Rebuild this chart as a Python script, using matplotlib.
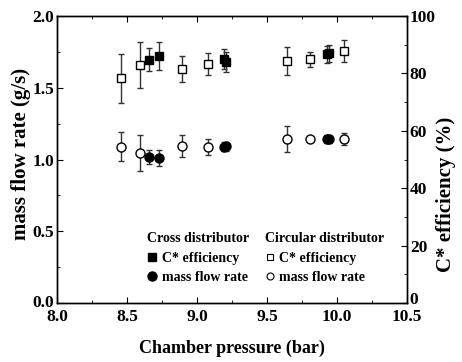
import matplotlib
matplotlib.use("Agg")
import matplotlib.pyplot as plt
from matplotlib.lines import Line2D
from matplotlib.transforms import ScaledTranslation

plt.rcParams['font.family'] = ['Liberation Serif', 'DejaVu Serif']
plt.rcParams['font.weight'] = 'bold'
plt.rcParams['axes.labelweight'] = 'bold'

# Circular distributor
circ_p = [8.46, 8.59, 8.89, 9.08, 9.64, 9.81, 10.05]
circ_eff = [78.3, 82.9, 81.5, 83.3, 84.3, 84.9, 87.8]
circ_eff_err = [8.5, 8.1, 4.4, 3.8, 5.0, 2.6, 3.7]
circ_mfr = [1.09, 1.045, 1.094, 1.089, 1.143, 1.143, 1.143]
circ_mfr_err = [0.10, 0.125, 0.077, 0.055, 0.09, 0.02, 0.042]

# Cross distributor
cross_p = [8.66, 8.726, 9.19, 9.205, 9.925, 9.94]
cross_eff = [84.7, 86.2, 85.0, 84.0, 86.6, 87.0]
cross_eff_err = [4.0, 4.9, 3.5, 3.5, 3.0, 3.0]
cross_mfr = [1.017, 1.013, 1.089, 1.092, 1.143, 1.143]
cross_mfr_err = [0.047, 0.055, 0.03, 0.03, 0.03, 0.03]

fig = plt.figure(figsize=(4.62, 3.62), dpi=100)
ax = fig.add_axes([57/462, 1-303/362, 350/462, 287/362])
ax2 = ax.twinx()

ecol = '#333333'
kw = dict(linestyle='none', ecolor=ecol, elinewidth=1.0, capsize=2.5, capthick=1.0)

ax.errorbar(circ_p, circ_mfr, yerr=circ_mfr_err, marker='o', mfc='white', mec='black',
            ms=6.5, mew=1.0, zorder=3, **kw)
ax.errorbar(cross_p, cross_mfr, yerr=cross_mfr_err, marker='o', mfc='black', mec='black',
            ms=6.5, mew=1.0, zorder=3, **kw)
ax2.errorbar(circ_p, circ_eff, yerr=circ_eff_err, marker='s', mfc='white', mec='black',
             ms=6, mew=1.0, zorder=3, **kw)
ax2.errorbar(cross_p, cross_eff, yerr=cross_eff_err, marker='s', mfc='black', mec='black',
             ms=6, mew=1.0, zorder=3, **kw)

ax.set_xlim(8.0, 10.5)
ax.set_ylim(0, 2.0)
ax2.set_ylim(0, 100)

ax.set_xticks([8.0, 8.5, 9.0, 9.5, 10.0, 10.5])
ax.set_xticks([8.25, 8.75, 9.25, 9.75, 10.25], minor=True)
ax.set_xticklabels(['8.0', '8.5', '9.0', '9.5', '10.0', '10.5'])
ax.set_yticks([0.0, 0.5, 1.0, 1.5, 2.0])
ax.set_yticks([0.25, 0.75, 1.25, 1.75], minor=True)
ax.set_yticklabels(['0.0', '0.5', '1.0', '1.5', '2.0'])
ax2.set_yticks([0, 20, 40, 60, 80, 100])
ax2.set_yticks([10, 30, 50, 70, 90], minor=True)

tfs = 12.5
ax.tick_params(axis='x', which='both', direction='in', top=True, labelsize=tfs, pad=4)
ax.tick_params(axis='x', which='major', length=4)
ax.tick_params(axis='x', which='minor', length=2)
ax.tick_params(axis='y', which='both', direction='in', right=False, labelsize=tfs, pad=2)
ax.tick_params(axis='y', which='major', length=4)
ax.tick_params(axis='y', which='minor', length=2)
ax2.tick_params(axis='y', which='both', direction='in', labelsize=tfs, pad=2)
ax2.tick_params(axis='y', which='major', length=4)
ax2.tick_params(axis='y', which='minor', length=2)

for lab in ax.get_xticklabels() + ax.get_yticklabels() + ax2.get_yticklabels():
    lab.set_fontweight('bold')

# nudge the bottom y labels up slightly so they don't collide with x labels
lab0 = ax.get_yticklabels()[0]
lab0.set_transform(lab0.get_transform() + ScaledTranslation(0, 2/100, fig.dpi_scale_trans))
lab1 = ax2.get_yticklabels()[0]
lab1.set_transform(lab1.get_transform() + ScaledTranslation(0, 5/100, fig.dpi_scale_trans))

for a in (ax, ax2):
    for s in a.spines.values():
        s.set_linewidth(1.0)

ax.set_xlabel('Chamber pressure (bar)', fontsize=13, fontweight='bold', labelpad=11)
ax.set_ylabel('mass flow rate (g/s)', fontsize=15, fontweight='bold', labelpad=1)
ax2.set_ylabel('C* efficiency (%)', fontsize=15, fontweight='bold', labelpad=0)
ax.yaxis.label.set_y(0.52)
ax2.yaxis.label.set_y(0.38)

h1 = [Line2D([], [], ls='none', marker='s', mfc='black', mec='black', ms=5.5),
      Line2D([], [], ls='none', marker='o', mfc='black', mec='black', ms=6.5)]
h2 = [Line2D([], [], ls='none', marker='s', mfc='white', mec='black', ms=5, mew=0.8),
      Line2D([], [], ls='none', marker='o', mfc='white', mec='black', ms=5, mew=0.8)]
labels = ['C* efficiency', 'mass flow rate']
lkw = dict(frameon=False, handlelength=0.7, handletextpad=0.35, borderpad=0,
           labelspacing=0.45, prop={'weight': 'bold', 'size': 10},
           title_fontproperties={'weight': 'bold', 'size': 10}, alignment='left')
leg1 = ax2.legend(h1, labels, title='Cross distributor', loc='upper left',
                  bbox_to_anchor=(0.238, 0.27), **lkw)
ax2.add_artist(leg1)
leg2 = ax2.legend(h2, labels, title='Circular distributor', loc='upper left',
                  bbox_to_anchor=(0.574, 0.27), **lkw)

fig.savefig('out.png', dpi=100)
